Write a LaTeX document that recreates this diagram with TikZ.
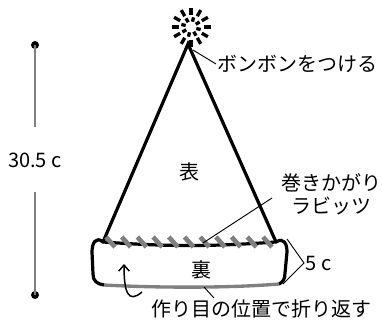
\documentclass[tikz,border=0pt]{standalone}
\usepackage{fontspec}
\setmainfont{Noto Sans CJK JP}
\usetikzlibrary{arrows.meta}
\definecolor{yarngray}{rgb}{0.5,0.5,0.5}
\tikzset{
	leader/.style={black, line width=0.7pt},
	hatline/.style={black, line width=2.4pt, line cap=round},
	lbl/.style={inner sep=1pt, font=\fontsize{15pt}{17pt}\selectfont}
}
\begin{document}
\begin{tikzpicture}[x=0.75pt, y=-0.75pt]
	\useasboundingbox (0,0) rectangle (382,325);
	% pompom
	\foreach \a in {0,30,...,330}
		\draw[line width=2.5pt] (191,27) ++(\a:12.5) -- ++(\a:7);
	\foreach \a in {15,60,...,330}
		\draw[line width=2.5pt] (191,27) ++(\a:5.5) -- ++(\a:4.5);
	% hat
	\coordinate (apex) at (188,44);
	\coordinate (bl) at (103,242);
	\coordinate (br) at (276,242);
	\draw[hatline] (bl) -- (apex) -- (br);
	\node[lbl] (front) at (189,172) {表};
	% cuff
	\draw[hatline] (bl) to[bend right=4] (br);
	\draw[hatline] (bl) .. controls (96,236) and (92,243) .. (92,252) -- (93,274) .. controls (93,281) and (97,284) .. (104,285);
	\draw[hatline] (br) .. controls (284,237) and (287,244) .. (287,252) -- (285,273) .. controls (285,279) and (283,282) .. (279,284);
	\draw[yarngray, line width=2.5pt] (104,285) .. controls (160,288) and (230,288) .. (279,284);
	\foreach \i in {0,...,10}
		\draw[yarngray, line width=3.5pt] (106+15.7*\i,237) -- ++(9,10);
	\node[lbl] (back) at (201,270) {裏};
	% fold arrow
	\draw[line width=1.1pt, -{Straight Barb[length=4.5pt,width=8pt]}] (142,292) .. controls (128,304) and (124,292) .. (124,264);
	% size
	\fill (35,45) circle (4) coordinate (top);
	\fill (35,295) circle (4) coordinate (bot);
	\node[lbl] (height) at (35,160) {30.5 c};
	\draw[yarngray, line width=1.2pt] (top) -- (35,127) (35,192) -- (bot);
	% labels
	\node[lbl, anchor=west] (pom) at (216,64) {ボンボンをつける};
	\draw[leader] (193,50) -- (pom.west);
	\node[lbl, align=center] (rab) at (331,194) {巻きかがり\\ラビッツ};
	\draw[leader] (203,243) -- (272,198);
	\node[lbl, anchor=west] (depth) at (304,263) {5 c};
	\draw[leader] (287,239) -- (depth.west) -- (283,284);
	\node[lbl] (fold) at (261,309) {作り目の位置で折り返す};
	\draw[leader] (204,287) -- (214,298);
\end{tikzpicture}
\end{document}
